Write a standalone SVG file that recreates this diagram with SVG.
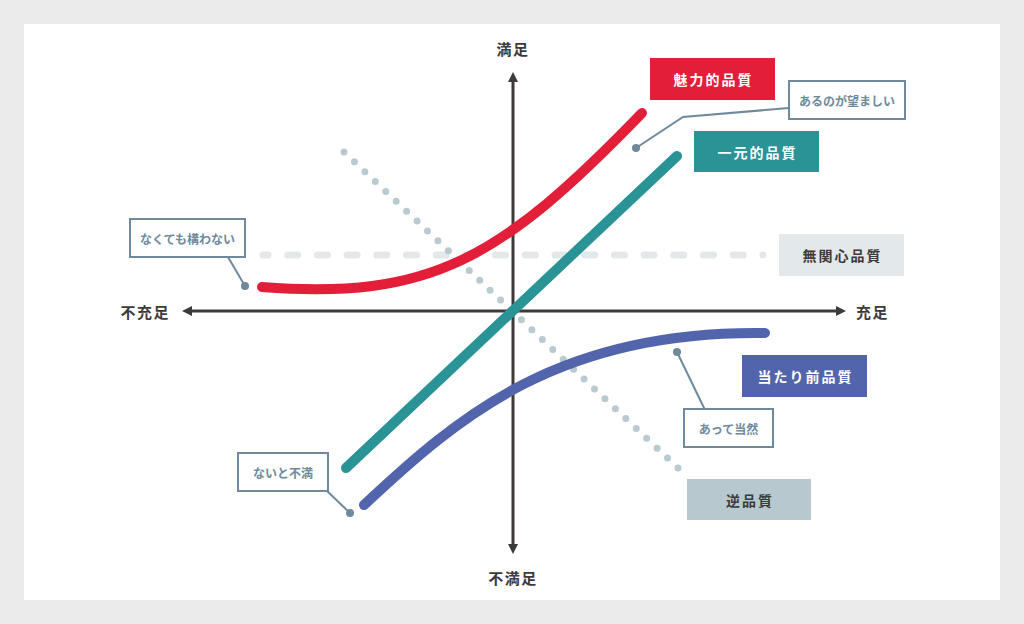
<svg xmlns="http://www.w3.org/2000/svg" width="1024" height="624" viewBox="0 0 1024 624">
<defs>
<style>
.axis{stroke:#3d3a39;stroke-width:3;fill:none}
.ah{fill:#3d3a39}
.curve{fill:none;stroke-width:10;stroke-linecap:round}
.lbl{font-family:"Noto Sans CJK JP","Noto Sans",sans-serif;font-size:14px;font-weight:700;letter-spacing:2px;text-anchor:middle;dominant-baseline:central}
.ax{font-family:"Noto Sans CJK JP","Noto Sans",sans-serif;font-size:15px;font-weight:700;letter-spacing:1.5px;fill:#3d3a39;dominant-baseline:central}
.co rect{fill:#fff;stroke:#6e8a9c;stroke-width:2}
.co text{font-family:"Noto Sans CJK JP","Noto Sans",sans-serif;font-size:12px;font-weight:700;fill:#6e8a9c;text-anchor:middle;dominant-baseline:central}
.lead{stroke:#6e8a9c;stroke-width:2;fill:none}
.dot{fill:#6e8a9c}
</style>
</defs>
<rect width="1024" height="624" fill="#ebebeb"/>
<rect x="24" y="24" width="976" height="576" fill="#fff"/>

<g id="connectors">
<line x1="263" y1="255" x2="763" y2="255" stroke="#e3e8ea" stroke-width="7" stroke-linecap="round" stroke-dasharray="10 19.7" stroke-dashoffset="5"/>
<line x1="344" y1="152" x2="678" y2="468" stroke="#b9cad0" stroke-width="7" stroke-linecap="round" stroke-dasharray="0 14.368"/>
<line class="axis" x1="190" y1="311" x2="838" y2="311"/>
<polygon class="ah" points="182,311 192,306 192,316"/>
<polygon class="ah" points="846,311 836,306 836,316"/>
<line class="axis" x1="513" y1="80" x2="513" y2="545"/>
<polygon class="ah" points="513,72 508,82 518,82"/>
<polygon class="ah" points="513,554 508,544 518,544"/>
<path class="curve" stroke="#2a9396" d="M346,468 L677,156"/>
<path class="curve" stroke="#e31e38" d="M262,287 C430,300 500,260 642,113"/>
<path class="curve" stroke="#5264ac" d="M364,505 C460,415 560,330 765,333"/>
<polyline class="lead" points="636,148 683,117 789,108"/>
<circle class="dot" cx="636" cy="148" r="4"/>
<line class="lead" x1="245" y1="286" x2="228" y2="257"/>
<circle class="dot" cx="245" cy="286" r="4"/>
<line class="lead" x1="677" y1="352" x2="705" y2="410"/>
<circle class="dot" cx="677" cy="352" r="4"/>
<line class="lead" x1="327" y1="491" x2="350" y2="513"/>
<circle class="dot" cx="350" cy="513" r="4"/>
</g>

<g id="axis-labels">
<text class="ax" x="513" y="48" text-anchor="middle">満足</text>
<text class="ax" x="513" y="577" text-anchor="middle">不満足</text>
<text class="ax" x="170" y="311" text-anchor="end">不充足</text>
<text class="ax" x="856" y="311">充足</text>
</g>

<g id="miryoku">
<rect x="650" y="58" width="125" height="42" fill="#e31e38"/>
<text class="lbl" x="713.5" y="79" fill="#fff">魅力的品質</text>
</g>
<g id="ichigen">
<rect x="694" y="131" width="125" height="41" fill="#2a9396"/>
<text class="lbl" x="757.5" y="151.5" fill="#fff">一元的品質</text>
</g>
<g id="mukanshin">
<rect x="779" y="234" width="125" height="42" fill="#e3e8ea"/>
<text class="lbl" x="842.5" y="255" fill="#3d3a39">無関心品質</text>
</g>
<g id="atarimae">
<rect x="742" y="355" width="125" height="42" fill="#5264ac"/>
<text class="lbl" x="805.5" y="376" fill="#fff">当たり前品質</text>
</g>
<g id="gyaku">
<rect x="687" y="479" width="124" height="41" fill="#b7c9cf"/>
<text class="lbl" x="750" y="499.5" fill="#3d3a39">逆品質</text>
</g>

<g id="callout-nozomashii" class="co">
<rect x="789" y="81" width="116" height="38"/>
<text x="847" y="100">あるのが望ましい</text>
</g>
<g id="callout-kamawanai" class="co">
<rect x="130" y="219" width="115" height="38"/>
<text x="187.5" y="238">なくても構わない</text>
</g>
<g id="callout-touzen" class="co">
<rect x="684" y="409" width="89" height="38"/>
<text x="728.5" y="428">あって当然</text>
</g>
<g id="callout-fuman" class="co">
<rect x="238" y="453" width="90" height="38"/>
<text x="283" y="472">ないと不満</text>
</g>
</svg>
